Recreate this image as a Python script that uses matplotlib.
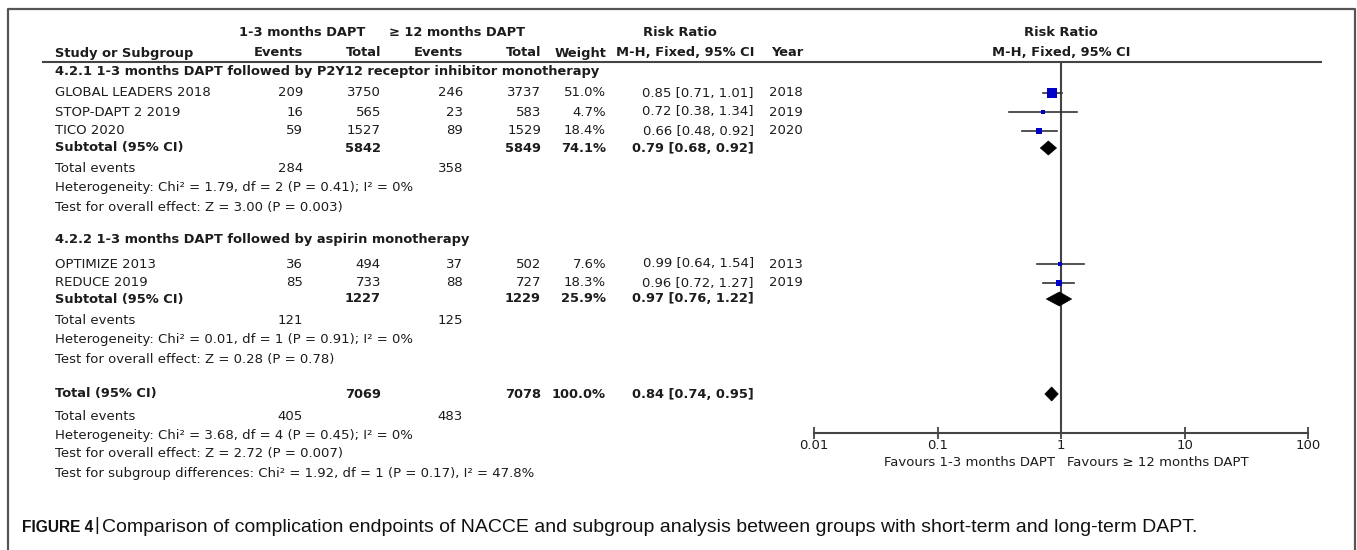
import matplotlib
matplotlib.use("Agg")
import matplotlib.pyplot as plt
from matplotlib.patches import Polygon
from matplotlib.lines import Line2D

# ---- study-level data ----
studies = ["GLOBAL LEADERS 2018", "STOP-DAPT 2 2019", "TICO 2020",
           "OPTIMIZE 2013", "REDUCE 2019"]
events_short = [209, 16, 59, 36, 85]
total_short = [3750, 565, 1527, 494, 733]
events_long = [246, 23, 89, 37, 88]
total_long = [3737, 583, 1529, 502, 727]
weights = [51.0, 4.7, 18.4, 7.6, 18.3]
rr = [0.85, 0.72, 0.66, 0.99, 0.96]
rr_lo = [0.71, 0.38, 0.48, 0.64, 0.72]
rr_hi = [1.01, 1.34, 0.92, 1.54, 1.27]
years = [2018, 2019, 2020, 2013, 2019]

# ---- subgroup / overall summaries ----
group_titles = ["4.2.1 1-3 months DAPT followed by P2Y12 receptor inhibitor monotherapy",
                "4.2.2 1-3 months DAPT followed by aspirin monotherapy"]
group_members = [[0, 1, 2], [3, 4]]
sub_total_short = [5842, 1227]
sub_total_long = [5849, 1229]
sub_weight = [74.1, 25.9]
sub_rr = [0.79, 0.97]
sub_lo = [0.68, 0.76]
sub_hi = [0.92, 1.22]
sub_events_short = [284, 121]
sub_events_long = [358, 125]
sub_het = ["Heterogeneity: Chi\u00b2 = 1.79, df = 2 (P = 0.41); I\u00b2 = 0%",
           "Heterogeneity: Chi\u00b2 = 0.01, df = 1 (P = 0.91); I\u00b2 = 0%"]
sub_z = ["Test for overall effect: Z = 3.00 (P = 0.003)",
         "Test for overall effect: Z = 0.28 (P = 0.78)"]

all_total_short = 7069
all_total_long = 7078
all_weight = 100.0
all_rr, all_lo, all_hi = 0.84, 0.74, 0.95
all_events_short = 405
all_events_long = 483
all_het = "Heterogeneity: Chi\u00b2 = 3.68, df = 4 (P = 0.45); I\u00b2 = 0%"
all_z = "Test for overall effect: Z = 2.72 (P = 0.007)"
all_sub = "Test for subgroup differences: Chi\u00b2 = 1.92, df = 1 (P = 0.17), I\u00b2 = 47.8%"

x_ticks = [0.01, 0.1, 1, 10, 100]
x_tick_labels = ["0.01", "0.1", "1", "10", "100"]

caption_head = "FIGURE 4"
caption_body = ("Comparison of complication endpoints of NACCE and subgroup analysis "
                "between groups with short-term and long-term DAPT.")

# ---- layout (pixel rows from the top) ----
W, H = 1357, 550
study_rows = [93, 112, 131, 264, 283]
group_title_rows = [72, 240]
sub_rows = [148, 299]
sub_event_rows = [169, 321]
sub_het_rows = [188, 340]
sub_z_rows = [207, 359]
total_row = 394
total_event_row = 416
total_het_row = 435
total_z_row = 454
total_sub_row = 473

X_LABEL = 55
X_EV1, X_TOT1, X_EV2, X_TOT2, X_W = 303, 381, 463, 541, 606
X_RR = 754
X_YEAR = 803
AX_L, AX_R = 814, 1308
AX_TOP, AX_BOT = 62, 433

FS = 9.5
FS_B = 9.35
TXT = "#1c1c1c"
LINE = "#444444"
plt.rcParams["font.family"] = ["DejaVu Sans"]

fig = plt.figure(figsize=(W / 100, H / 100), dpi=100)
bg = fig.add_axes([0, 0, 1, 1])
bg.set_xlim(0, W)
bg.set_ylim(H, 0)
bg.axis("off")


def put(x, y, s, ha="left", bold=False, **kw):
    bg.text(x, y, s, ha=ha, va="center", fontsize=FS_B if bold else FS, color=TXT,
            fontweight="bold" if bold else "normal", **kw)


# frame
bg.add_line(Line2D([8, 8, 1355, 1355], [H + 5, 9, 9, H + 5], color="#555555", lw=1.6))

# header
put(302, 33, "1-3 months DAPT", ha="center", bold=True)
put(457, 33, "\u2265 12 months DAPT", ha="center", bold=True)
put(680, 33, "Risk Ratio", ha="center", bold=True)
put(1061, 33, "Risk Ratio", ha="center", bold=True)
put(X_LABEL, 53, "Study or Subgroup", bold=True)
for x, s in [(X_EV1, "Events"), (X_TOT1, "Total"), (X_EV2, "Events"),
             (X_TOT2, "Total"), (X_W, "Weight"), (X_RR, "M-H, Fixed, 95% CI"),
             (X_YEAR, "Year")]:
    put(x, 53, s, ha="right", bold=True)
put(1061, 53, "M-H, Fixed, 95% CI", ha="center", bold=True)
bg.add_line(Line2D([43, 1321], [AX_TOP, AX_TOP], color=LINE, lw=1.5))

# table body
for g, members in enumerate(group_members):
    put(X_LABEL, group_title_rows[g], group_titles[g], bold=True)
    for i in members:
        y = study_rows[i]
        put(X_LABEL, y, studies[i])
        put(X_EV1, y, f"{events_short[i]}", ha="right")
        put(X_TOT1, y, f"{total_short[i]}", ha="right")
        put(X_EV2, y, f"{events_long[i]}", ha="right")
        put(X_TOT2, y, f"{total_long[i]}", ha="right")
        put(X_W, y, f"{weights[i]:.1f}%", ha="right")
        put(X_RR, y, f"{rr[i]:.2f} [{rr_lo[i]:.2f}, {rr_hi[i]:.2f}]", ha="right")
        put(X_YEAR, y, f"{years[i]}", ha="right")
    y = sub_rows[g]
    put(X_LABEL, y, "Subtotal (95% CI)", bold=True)
    put(X_TOT1, y, f"{sub_total_short[g]}", ha="right", bold=True)
    put(X_TOT2, y, f"{sub_total_long[g]}", ha="right", bold=True)
    put(X_W, y, f"{sub_weight[g]:.1f}%", ha="right", bold=True)
    put(X_RR, y, f"{sub_rr[g]:.2f} [{sub_lo[g]:.2f}, {sub_hi[g]:.2f}]", ha="right", bold=True)
    put(X_LABEL, sub_event_rows[g], "Total events")
    put(X_EV1, sub_event_rows[g], f"{sub_events_short[g]}", ha="right")
    put(X_EV2, sub_event_rows[g], f"{sub_events_long[g]}", ha="right")
    put(X_LABEL, sub_het_rows[g], sub_het[g])
    put(X_LABEL, sub_z_rows[g], sub_z[g])

put(X_LABEL, total_row, "Total (95% CI)", bold=True)
put(X_TOT1, total_row, f"{all_total_short}", ha="right", bold=True)
put(X_TOT2, total_row, f"{all_total_long}", ha="right", bold=True)
put(X_W, total_row, f"{all_weight:.1f}%", ha="right", bold=True)
put(X_RR, total_row, f"{all_rr:.2f} [{all_lo:.2f}, {all_hi:.2f}]", ha="right", bold=True)
put(X_LABEL, total_event_row, "Total events")
put(X_EV1, total_event_row, f"{all_events_short}", ha="right")
put(X_EV2, total_event_row, f"{all_events_long}", ha="right")
put(X_LABEL, total_het_row, all_het)
put(X_LABEL, total_z_row, all_z)
put(X_LABEL, total_sub_row, all_sub)

# ---- forest plot ----
fx = fig.add_axes([AX_L / W, (H - AX_BOT) / H, (AX_R - AX_L) / W, (AX_BOT - AX_TOP) / H])
fx.set_xscale("log")
fx.set_xlim(0.01, 100)
fx.set_ylim(AX_BOT, AX_TOP)
fx.patch.set_visible(False)
for side in ["top", "left", "right"]:
    fx.spines[side].set_visible(False)
fx.spines["bottom"].set_color(LINE)
fx.spines["bottom"].set_linewidth(1.5)
fx.set_yticks([])
fx.set_xticks(x_ticks)
fx.set_xticklabels(x_tick_labels)
fx.minorticks_off()
fx.tick_params(axis="x", direction="inout", length=9, width=1.3, color=LINE,
               labelsize=FS, labelcolor=TXT, pad=0)
fx.axvline(1, color=LINE, lw=1.5, zorder=1)

size_scale = 7.9 ** 2 / 51.0
for i in range(len(studies)):
    y = study_rows[i]
    fx.plot([rr_lo[i], rr_hi[i]], [y, y], color="#333333", lw=1.2, zorder=2)
    fx.scatter([rr[i]], [y], s=weights[i] * size_scale, marker="s",
               color="#0000c8", linewidths=0, zorder=3)


def diamond(est, lo, hi, y, h=7):
    fx.add_patch(Polygon([(lo, y), (est, y - h), (hi, y), (est, y + h)],
                         closed=True, facecolor="black", edgecolor="black",
                         lw=0.5, zorder=3))


for g in range(len(sub_rr)):
    diamond(sub_rr[g], sub_lo[g], sub_hi[g], sub_rows[g])
diamond(all_rr, all_lo, all_hi, total_row)

put(1055, 462, "Favours 1-3 months DAPT", ha="right")
put(1067, 462, "Favours \u2265 12 months DAPT", ha="left")

# caption
bg.text(22, 527, caption_head, ha="left", va="center", fontsize=11.2,
        fontweight="bold", family="Liberation Sans", color="#111111")
bg.text(97, 526, "|", ha="center", va="center", fontsize=13.5,
        family="Liberation Sans", color="#111111")
bg.text(102, 527, caption_body, ha="left", va="center", fontsize=14.0,
        family="Liberation Sans", color="#111111")

fig.savefig("out.png", dpi=100)
